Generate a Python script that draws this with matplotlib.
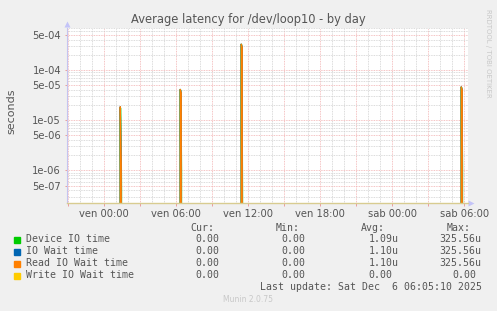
import matplotlib
matplotlib.use("Agg")
import matplotlib.pyplot as plt
import numpy as np
from matplotlib.ticker import FixedLocator, LogLocator, FuncFormatter, NullFormatter
from matplotlib.patches import Rectangle

# ---------------- data ----------------
title = "Average latency for /dev/loop10 - by day"
ylabel = "seconds"
tick_hours = [0, 6, 12, 18, 24, 30]
tick_labels = ["ven 00:00", "ven 06:00", "ven 12:00", "ven 18:00", "sab 00:00", "sab 06:00"]
ytick_values = [5e-4, 1e-4, 5e-5, 1e-5, 5e-6, 1e-6, 5e-7]
ytick_labels = ["5e-04", "1e-04", "5e-05", "1e-05", "5e-06", "1e-06", "5e-07"]

series_names = ["Device IO time", "IO Wait time", "Read IO Wait time", "Write IO Wait time"]
series_colors = ["#00cc00", "#0066b3", "#ff8000", "#ffcc00"]

# hours relative to ven 00:00 where the latency spikes occur
spike_hours = [1.33, 6.33, 11.42, 29.75]
device_peaks = [1.75e-5, 4.0e-5, 3.2e-4, 4.5e-5]
device_tail = [4.0e-7, 1.0e-6, 3.0e-7, 1.2e-6]
iowait_peaks = [1.85e-5, 4.1e-5, 3.2556e-4, 4.6e-5]
iowait_tail = [1.4e-6, 3.5e-5, 2.8e-4, 4.0e-5]
read_peaks = [1.85e-5, 4.1e-5, 3.2556e-4, 4.6e-5]
read_tail = [1.4e-6, 3.5e-5, 2.8e-4, 4.0e-5]
write_peaks = [0.0, 0.0, 0.0, 0.0]

cur_vals = ["0.00", "0.00", "0.00", "0.00"]
min_vals = ["0.00", "0.00", "0.00", "0.00"]
avg_vals = ["1.09u", "1.10u", "1.10u", "0.00"]
max_vals = ["325.56u", "325.56u", "325.56u", "0.00"]
last_update = "Last update: Sat Dec  6 06:05:10 2025"
version = "Munin 2.0.75"
watermark = "RRDTOOL / TOBI OETIKER"

# ---------------- build sampled series (5 min steps) ----------------
step = 5.0 / 60.0
t = np.arange(-3.0, 30.27, step)


def build(peaks, tail=None):
    y = np.zeros_like(t)
    for i, h in enumerate(spike_hours):
        k = int(np.argmin(np.abs(t - h)))
        y[k] = peaks[i]
        if tail is not None and k + 1 < len(y):
            y[k + 1] = tail[i]
    return y


series = [build(device_peaks, device_tail), build(iowait_peaks, iowait_tail),
          build(read_peaks, read_tail), build(write_peaks)]

# ---------------- figure ----------------
W, H = 497, 311
fig = plt.figure(figsize=(W / 100, H / 100), dpi=100, facecolor="#f0f0f0")
L, R, T, B = 67.3, 467.5, 27.5, 203.0
ax = fig.add_axes([L / W, 1 - B / H, (R - L) / W, (B - T) / H])
ax.set_facecolor("white")

ax.set_yscale("log", nonpositive="clip")
ax.set_ylim(2.25e-7, 7.0e-4)
ax.set_xlim(-3.08, 30.27)

styles = [dict(lw=1.5, alpha=0.55, zorder=3), dict(lw=0.9, zorder=4),
          dict(lw=0.9, zorder=5), dict(lw=0.9, zorder=6)]
for y, c, st in zip(series, series_colors, styles):
    ax.plot(t, y, color=c, **st)

# y axis ticks / grid
ax.yaxis.set_major_locator(FixedLocator(ytick_values + [1e-3, 1e-7]))
ylab_map = dict(zip(ytick_values, ytick_labels))
ax.yaxis.set_major_formatter(FuncFormatter(lambda v, p: ylab_map.get(v, "")))
ax.yaxis.set_minor_locator(LogLocator(base=10, subs=(2, 3, 4, 6, 7, 8, 9), numticks=20))
ax.yaxis.set_minor_formatter(NullFormatter())

# x axis ticks / grid
ax.xaxis.set_major_locator(FixedLocator(np.arange(-3, 31, 3)))
xlab_map = dict(zip(tick_hours, tick_labels))
ax.xaxis.set_major_formatter(FuncFormatter(lambda v, p: xlab_map.get(int(round(v)), "")))
ax.xaxis.set_minor_locator(FixedLocator(np.arange(-3, 31, 1)))

ax.grid(which="minor", color="#cfcfcf", linestyle=(0, (1, 1)), lw=0.6, zorder=0)
ax.grid(which="major", color="#f2b0b0", linestyle=(0, (1, 1)), lw=0.6, zorder=1)
ax.set_axisbelow(True)

ax.tick_params(axis="x", which="major", direction="out", length=2.5, width=0.6,
               color="#e89090", labelsize=7.2, labelcolor="#555555", pad=2)
ax.tick_params(axis="y", which="major", direction="out", length=1.5, width=0.6,
               color="#e89090", labelsize=7.2, labelcolor="#555555", pad=3)
ax.tick_params(which="minor", length=0)

for s in ("top", "right"):
    ax.spines[s].set_visible(False)
ax.spines["left"].set_color("#c4c4f0")
ax.spines["left"].set_linewidth(0.8)
ax.spines["left"].set_zorder(7)
ax.spines["bottom"].set_color("#d8cc90")
ax.spines["bottom"].set_linewidth(1.0)
ax.spines["bottom"].set_zorder(7)

# axis arrows
ax.plot([1.008], [0], marker=">", color="#c4c4f8", ms=5, transform=ax.transAxes,
        clip_on=False, mec="none")
ax.plot([0], [1.02], marker="^", color="#c4c4f8", ms=5, transform=ax.transAxes,
        clip_on=False, mec="none")

ax.set_ylabel(ylabel, fontsize=8, color="#555555")
ax.yaxis.set_label_coords(-0.128, 0.52)

fig.text(248.5 / W, 1 - 19 / H, title, ha="center", va="center", fontsize=8.3, color="#555555")
fig.text(488 / W, 1 - 53 / H, watermark, ha="center", va="center", rotation=270,
         fontsize=5.0, color="#c8c8c8")

# ---------------- legend ----------------
mono = dict(family="DejaVu Sans Mono", fontsize=7.15, color="#555555", va="center")
hy = 227.7
fig.text(190 / W, 1 - hy / H, "Cur:", **mono)
fig.text(276 / W, 1 - hy / H, "Min:", **mono)
fig.text(361 / W, 1 - hy / H, "Avg:", **mono)
fig.text(446.7 / W, 1 - hy / H, "Max:", **mono)

row_y = [239.5, 251.5, 263.5, 275.5]
for i, name in enumerate(series_names):
    y = row_y[i]
    fig.patches.append(Rectangle((14 / W, 1 - (y + 3) / H), 6 / W, 6 / H,
                                 transform=fig.transFigure, color=series_colors[i]))
    fig.text(26 / W, 1 - y / H, name, **mono)
    fig.text(219.5 / W, 1 - y / H, cur_vals[i], ha="right", **mono)
    fig.text(305.5 / W, 1 - y / H, min_vals[i], ha="right", **mono)
    fig.text(368.3 / W, 1 - y / H, avg_vals[i], ha="left", **mono)
    if max_vals[i].endswith("u"):
        fig.text(481.7 / W, 1 - y / H, max_vals[i], ha="right", **mono)
    else:
        fig.text(476.7 / W, 1 - y / H, max_vals[i], ha="right", **mono)

fig.text(482.3 / W, 1 - 287.5 / H, last_update, ha="right", **mono)
fig.text(248 / W, 1 - 300 / H, version, ha="center", va="center", fontsize=5.5, color="#c8c8c8")

fig.savefig("out.png", dpi=100, facecolor=fig.get_facecolor())
